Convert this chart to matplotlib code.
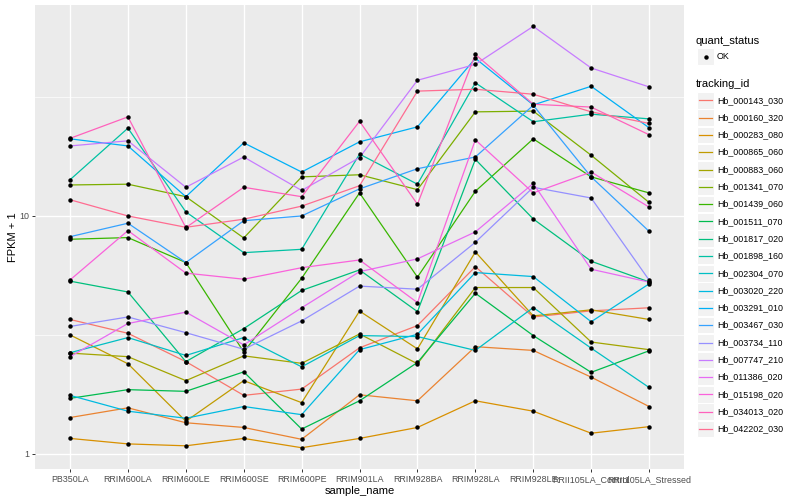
import matplotlib
matplotlib.use("Agg")
import matplotlib.pyplot as plt
import numpy as np
from matplotlib.patches import Rectangle
from matplotlib.lines import Line2D
from matplotlib.ticker import FixedLocator, NullFormatter

plt.rcParams['font.family'] = ['Liberation Sans', 'DejaVu Sans']

samples = ['PB350LA', 'RRIM600LA', 'RRIM600LE', 'RRIM600SE', 'RRIM600PE',
           'RRIM901LA', 'RRIM928BA', 'RRIM928LA', 'RRIM928LE',
           'RRII105LA_Control', 'RRII105LA_Stressed']

tracking_ids = ['Hb_000143_030', 'Hb_000160_320', 'Hb_000283_080', 'Hb_000865_060',
                'Hb_000883_060', 'Hb_001341_070', 'Hb_001439_060', 'Hb_001511_070',
                'Hb_001817_020', 'Hb_001898_160', 'Hb_002304_070', 'Hb_003020_220',
                'Hb_003291_010', 'Hb_003467_030', 'Hb_003734_110', 'Hb_007747_210',
                'Hb_011386_020', 'Hb_015198_020', 'Hb_034013_020', 'Hb_042202_030']

# ggplot hue palette, 20 levels
colors = ['#F8766D', '#EA8331', '#D89000', '#C09B00', '#A3A500', '#7CAE00',
          '#39B600', '#00BB4E', '#00BF7D', '#00C1A3', '#00BFC4', '#00BAE0',
          '#00B0F6', '#35A2FF', '#9590FF', '#C77CFF', '#E76BF3', '#FA62DB',
          '#FF62BC', '#FF6C91']

# FPKM + 1 per sample
hb_000143_030 = [3.67, 3.21, 2.44, 1.76, 1.87, 2.79, 3.46, 6.12, 3.76, 3.99, 4.11]
hb_000160_320 = [1.42, 1.56, 1.35, 1.29, 1.15, 1.77, 1.67, 2.82, 2.72, 2.10, 1.58]
hb_000283_080 = [1.16, 1.10, 1.08, 1.16, 1.06, 1.16, 1.29, 1.67, 1.51, 1.22, 1.30]
hb_000865_060 = [3.16, 2.39, 1.37, 2.03, 1.64, 3.98, 2.76, 7.06, 3.80, 4.03, 3.67]
hb_000883_060 = [2.65, 2.56, 2.03, 2.58, 2.40, 3.19, 2.39, 5.00, 5.00, 2.95, 2.74]
hb_001341_070 = [13.5, 13.6, 12.05, 8.08, 14.6, 14.9, 12.9, 27.4, 27.6, 18.0, 11.4]
hb_001439_060 = [7.98, 8.11, 6.37, 2.68, 5.47, 12.5, 5.53, 12.7, 21.1, 14.6, 12.5]
hb_001511_070 = [1.71, 1.86, 1.83, 2.21, 1.27, 1.67, 2.42, 4.73, 3.14, 2.20, 2.71]
hb_001817_020 = [5.32, 4.79, 2.44, 3.36, 4.86, 5.93, 3.96, 17.3, 9.71, 6.45, 5.28]
hb_001898_160 = [14.2, 23.4, 10.4, 7.01, 7.24, 18.2, 13.6, 36.3, 24.9, 26.8, 25.6]
hb_002304_070 = [2.66, 3.08, 2.59, 3.08, 2.32, 3.14, 3.11, 2.72, 4.12, 2.78, 1.90]
hb_003020_220 = [1.76, 1.51, 1.41, 1.58, 1.46, 2.74, 3.18, 5.78, 5.56, 3.59, 5.18]
hb_003291_010 = [21.1, 19.7, 12.05, 20.3, 15.3, 20.5, 23.7, 46.0, 29.3, 35.1, 23.5]
hb_003467_030 = [8.18, 9.32, 6.37, 9.55, 10.0, 13.0, 15.8, 17.7, 29.2, 14.6, 8.62]
hb_003734_110 = [3.43, 3.76, 3.23, 2.75, 3.62, 5.07, 4.92, 7.75, 13.2, 11.9, 5.38]
hb_007747_210 = [19.7, 20.7, 13.2, 17.7, 12.8, 17.6, 37.2, 43.4, 62.7, 41.9, 34.9]
hb_011386_020 = [2.56, 3.53, 3.94, 2.87, 4.11, 5.83, 6.60, 8.57, 13.7, 5.97, 5.27]
hb_015198_020 = [5.38, 8.68, 5.75, 5.42, 6.06, 6.53, 4.32, 20.9, 12.5, 15.3, 10.9]
hb_034013_020 = [21.2, 26.1, 8.93, 13.2, 12.05, 25.0, 11.2, 47.8, 29.5, 28.7, 21.96]
hb_042202_030 = [11.7, 10.0, 8.96, 9.69, 11.0, 13.4, 33.5, 34.1, 32.5, 27.4, 24.5]

series = [hb_000143_030, hb_000160_320, hb_000283_080, hb_000865_060,
          hb_000883_060, hb_001341_070, hb_001439_060, hb_001511_070,
          hb_001817_020, hb_001898_160, hb_002304_070, hb_003020_220,
          hb_003291_010, hb_003467_030, hb_003734_110, hb_007747_210,
          hb_011386_020, hb_015198_020, hb_034013_020, hb_042202_030]

W, H = 800, 500
fig = plt.figure(figsize=(8, 5), dpi=100)
fig.patch.set_facecolor('white')

# panel in pixel coords: left, top, right, bottom
pl, pt, pr, pb = 35.3, 5.3, 683.8, 468.8
ax = fig.add_axes([pl / W, 1 - pb / H, (pr - pl) / W, (pb - pt) / H])
ax.set_facecolor('#EBEBEB')

x = np.arange(len(samples))
for vals, col in zip(series, colors):
    ax.plot(x, vals, color=col, lw=0.9, zorder=3, solid_capstyle='butt')
for vals in series:
    ax.plot(x, vals, 'o', color='black', ms=3.2, mew=0, zorder=4)

ax.set_yscale('log')
logv = np.log10(np.concatenate([np.array(s) for s in series]))
lo, hi = logv.min(), logv.max()
pad = 0.05 * (hi - lo)
ax.set_ylim(10 ** (lo - pad), 10 ** (hi + pad))
ax.set_xlim(-0.6, len(samples) - 0.4)

ax.yaxis.set_major_locator(FixedLocator([1, 10]))
ax.set_yticklabels(['1', '10'])
ax.yaxis.set_minor_locator(FixedLocator([10 ** 0.5, 10 ** 1.5]))
ax.yaxis.set_minor_formatter(NullFormatter())
ax.set_xticks(x)
ax.set_xticklabels(samples)

ax.grid(which='major', color='white', lw=1.0, zorder=0)
ax.grid(which='minor', axis='y', color='white', lw=0.5, zorder=0)
ax.set_axisbelow(True)
for sp in ax.spines.values():
    sp.set_visible(False)
ax.tick_params(which='major', length=2.5, width=0.7, color='#333333',
               labelsize=6.4, labelcolor='#4D4D4D', pad=2)
ax.tick_params(which='minor', length=0)

ax.set_xlabel('sample_name', fontsize=8, color='black', labelpad=1.5)
ax.set_ylabel('FPKM + 1', fontsize=8, color='black', labelpad=1)

# legends, drawn by hand in ggplot style
def fx(px):
    return px / W

def fy(py):
    return 1 - py / H

kx0, kw = 697.3, 16.5
tx = 717.0
fig.text(fx(696), fy(40.7), 'quant_status', fontsize=8, va='center', ha='left')
fig.add_artist(Rectangle((fx(kx0), fy(56.7 + kw / 2)), kw / W, kw / H,
                         transform=fig.transFigure, facecolor='#F2F2F2',
                         edgecolor='white', lw=0.8))
fig.add_artist(Line2D([fx(kx0 + kw / 2)], [fy(56.7)], marker='o', color='black',
                      ms=3.2, mew=0, transform=fig.transFigure))
fig.text(fx(tx), fy(56.7), 'OK', fontsize=6.4, va='center', ha='left')

fig.text(fx(696), fy(84.3), 'tracking_id', fontsize=8, va='center', ha='left')
step = 17.3
for i, (name, col) in enumerate(zip(tracking_ids, colors)):
    cy = 100.3 + i * step
    fig.add_artist(Rectangle((fx(kx0), fy(cy + kw / 2)), kw / W, kw / H,
                             transform=fig.transFigure, facecolor='#F2F2F2',
                             edgecolor='white', lw=0.8))
    fig.add_artist(Line2D([fx(kx0 + 1.5), fx(kx0 + kw - 1.5)], [fy(cy), fy(cy)],
                          color=col, lw=0.9, transform=fig.transFigure))
    fig.text(fx(tx), fy(cy), name, fontsize=6.4, va='center', ha='left')

fig.savefig('out.png', dpi=100)
